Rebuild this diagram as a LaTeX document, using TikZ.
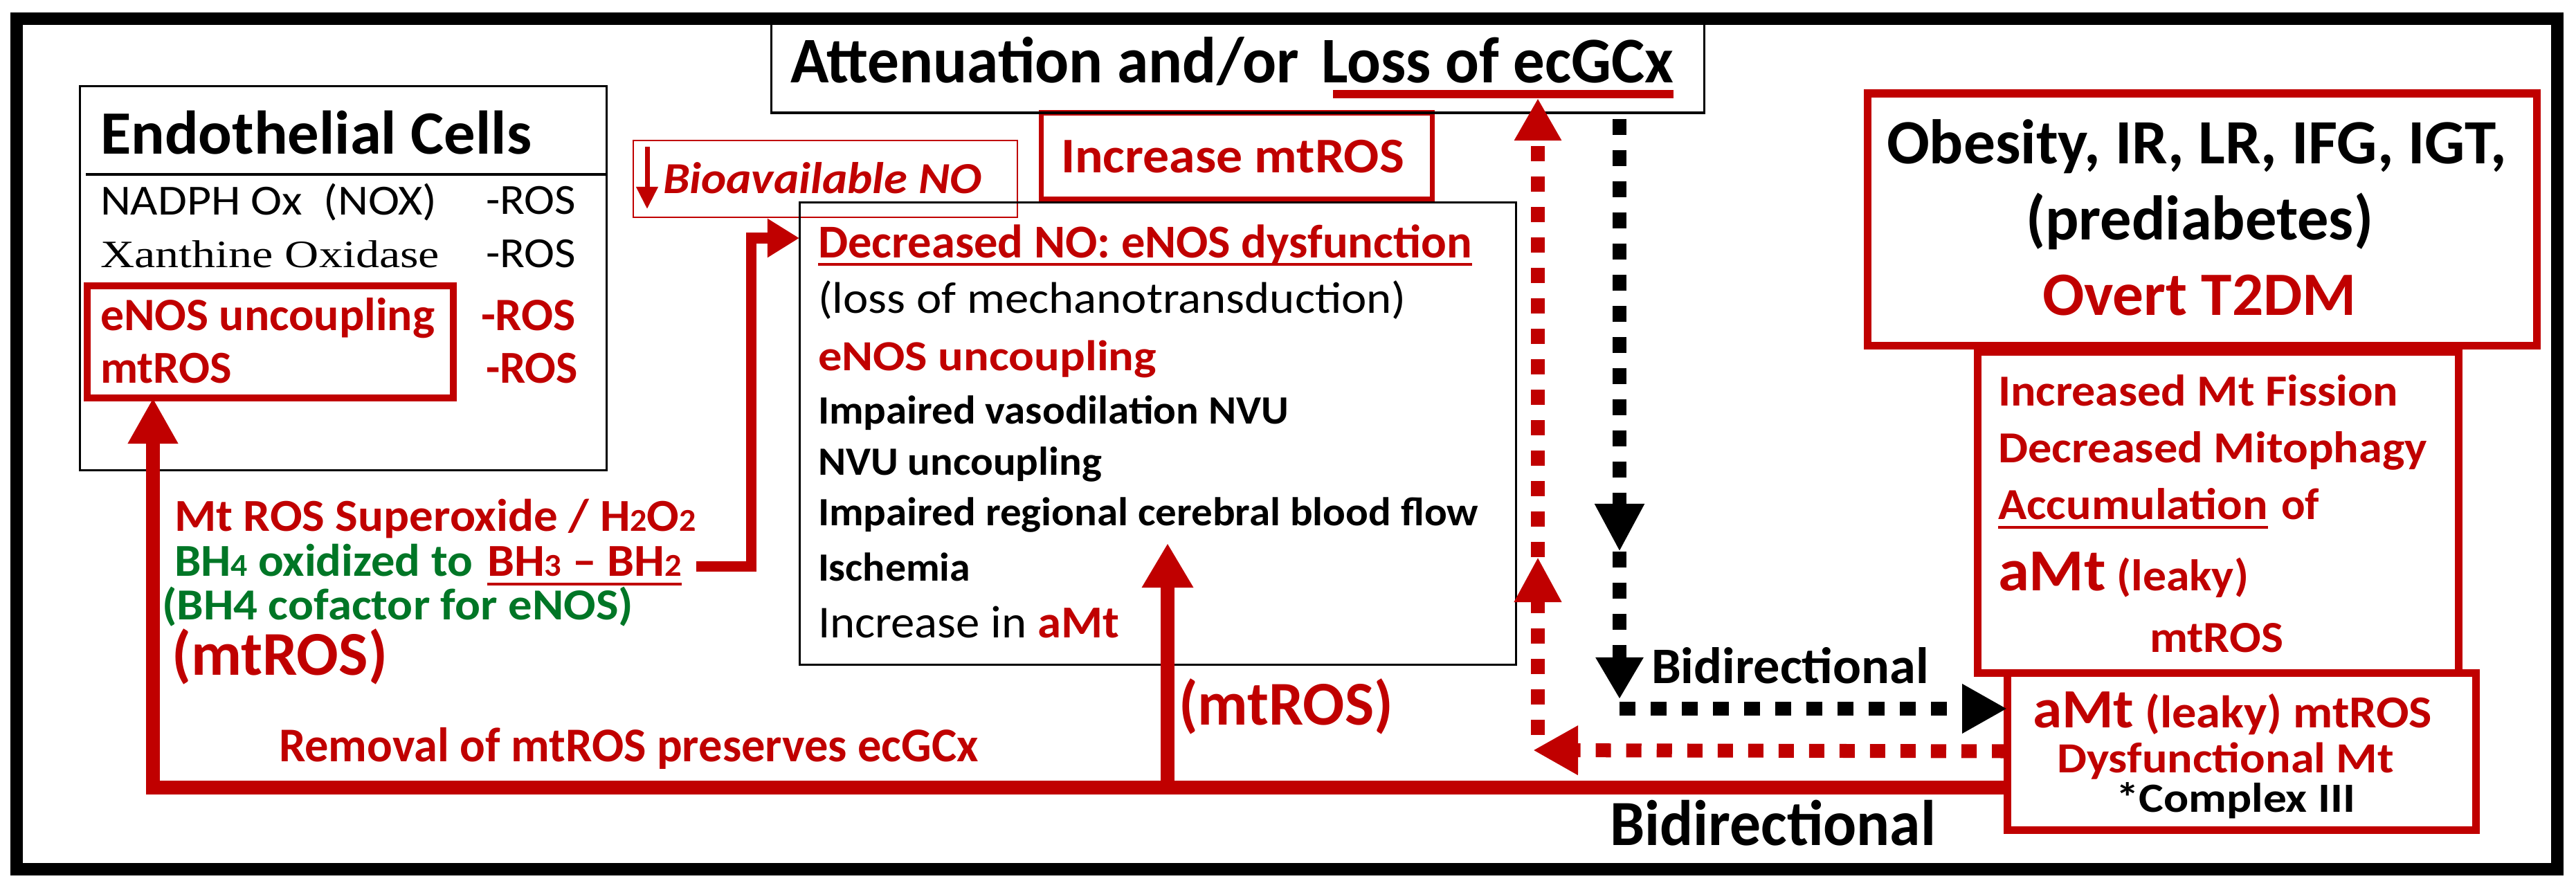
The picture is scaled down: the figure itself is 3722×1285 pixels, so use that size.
\documentclass[tikz,border=0pt]{standalone}
\usepackage{fontspec}
\setmainfont{Carlito}
\newfontfamily\timesfam{Liberation Serif}
\usetikzlibrary{arrows.meta,fit,calc}
\definecolor{dred}{RGB}{192,0,0}
\definecolor{dgreen}{RGB}{0,118,38}
\newlength\pxu \setlength\pxu{0.01cm}
\newcommand\fpx[1]{\fontsize{\fpeval{#1*0.28453}pt}{\fpeval{#1*0.34}pt}\selectfont}
\newcommand\tw[2]{\resizebox{#1\pxu}{\height}{#2}}
\begin{document}
\begin{tikzpicture}[x=0.01cm,y=-0.01cm,
 tx/.style={inner sep=0pt,outer sep=0pt,anchor=base west},
 kbox/.style={draw=black,line width=0.03cm,inner sep=0pt,outer sep=0pt},
 rbox/.style={draw=dred,line width=0.11cm,inner sep=0pt,outer sep=0pt},
 rarr/.style={draw=dred,line width=0.2cm},
 rdash/.style={draw=dred,line width=0.2cm,dash pattern=on 0.22cm off 0.22cm},
 kdash/.style={draw=black,line width=0.2cm,dash pattern=on 0.23cm off 0.22cm},
 rb/.style={font=\bfseries\fpx{#1},text=dred},
 kb/.style={font=\bfseries\fpx{#1},text=black},
]
\useasboundingbox (0,0) rectangle (3722,1285);
\node[fit={(24,27)(3695,1256)},draw,line width=0.18cm,inner sep=0pt] (frame) {};

% ---- boxes
\node[kbox,fit={(115,125)(876,679)}] (ecbox) {};
\node[rbox,line width=0.1cm,fit={(126,413)(655,575)}] (ecred) {};
\node[draw=dred,line width=0.02cm,inner sep=0pt,fit={(915,203)(1470,314)}] (bbox) {};
\node[rbox,line width=0.07cm,fit={(1504,163)(2069,288)}] (incbox) {};
\node[kbox,fit={(1114,35)(2462,163)}] (topbox) {};
\node[kbox,fit={(1155,292)(2190,960)}] (cbox) {};
\node[rbox,fit={(2698,135)(3665,499)}] (obbox) {};
\node[rbox,fit={(2857,508)(3552,972)}] (fisbox) {};
\node[rbox,fit={(2900,972)(3577,1199)}] (amtbox) {};

% ---- endothelial cells
\coordinate (sepL) at (124,252);
\draw[line width=0.035cm] (sepL) -- (sepL -| ecbox.east);
\node[tx,kb=89] (ectitle) at (145,222) {\tw{623}{Endothelial Cells}};
\node[tx,font=\fpx{62}] (nadph) at (145,310) {\tw{486}{NADPH Ox\ \ (NOX)}};
\node[tx,font=\fpx{62}] (ros1) at (702,310) {\tw{130}{-ROS}};
\node[tx,font=\timesfam\fpx{56}] (xan) at (145,386) {\tw{490}{Xanthine Oxidase}};
\node[tx,font=\fpx{62}] (ros2) at (702,386) {\tw{130}{-ROS}};
\node[tx,rb=67] (enos1) at (145,477) {\tw{483}{eNOS uncoupling}};
\node[tx,rb=67] (ros3) at (695,477) {\tw{137}{-ROS}};
\node[tx,rb=66] (mtros1) at (145,553) {\tw{190}{mtROS}};
\node[tx,rb=66] (ros4) at (702,553) {\tw{133}{-ROS}};

% ---- bioavailable NO
\coordinate (bd1) at (935,212); \coordinate (bd2) at (935,302);
\draw[dred,line width=0.07cm,-{Triangle[width=0.3cm,length=0.32cm]}] (bd1) -- (bd2);
\node[tx,font=\bfseries\itshape\fpx{64},text=dred] (bno) at (958,280) {\tw{460}{Bioavailable NO}};

% ---- increase mtROS
\node[tx,rb=72] (inc) at (1533,249) {\tw{496}{Increase mtROS}};

% ---- top box
\node[tx,kb=94] (att) at (1142,120) {\tw{735}{Attenuation and/or}};
\node[tx,kb=94] (lossx) at (1909,120) {\tw{509}{Loss of ecGCx}};
\draw[dred,line width=0.11cm] ($(lossx.base west)+(17,16)$) -- ($(lossx.base east)+(0,16)$);

% ---- central box
\node[tx,rb=68] (dec) at (1182,372) {\tw{945}{Decreased NO: eNOS dysfunction}};
\draw[dred,line width=0.045cm] ($(dec.base west)+(0,10)$) -- ($(dec.base east)+(0,10)$);
\node[tx,font=\fpx{64}] (loss) at (1182,452) {\tw{850}{(loss of mechanotransduction)}};
\node[tx,rb=62] (enos2) at (1182,535) {\tw{489}{eNOS uncoupling}};
\node[tx,kb=58] (imp1) at (1182,612) {\tw{680}{Impaired vasodilation NVU}};
\node[tx,kb=58] (nvu) at (1182,686) {\tw{410}{NVU uncoupling}};
\node[tx,kb=58] (imp2) at (1182,759) {\tw{954}{Impaired regional cerebral blood flow}};
\node[tx,kb=58] (isch) at (1182,839) {\tw{220}{Ischemia}};
\node[tx,font=\fpx{66}] (incr) at (1182,921) {\tw{435}{Increase in {\bfseries\color{dred}aMt}}};

% ---- left lower texts
\node[tx,rb=66] (mtsup) at (252,767) {\tw{754}{Mt ROS Superoxide / H{\fpx{46}2}O{\fpx{46}2}}};
\node[tx,font=\bfseries\fpx{66},text=dgreen] (bh4) at (252,832) {\tw{431}{BH{\fpx{46}4} oxidized to}};
\node[tx,rb=66] (bh3) at (704,832) {\tw{281}{BH{\fpx{46}3} -- BH{\fpx{46}2}}};
\draw[dred,line width=0.035cm] ($(bh3.base west)+(0,12)$) -- ($(bh3.base east)+(0,12)$);
\node[tx,font=\bfseries\fpx{64},text=dgreen] (cof) at (234,895) {\tw{681}{(BH4 cofactor for eNOS)}};
\node[tx,rb=90] (mtros2) at (248,975) {\tw{312}{(mtROS)}};
\node[tx,rb=70] (rem) at (403,1100) {\tw{1011}{Removal of mtROS preserves ecGCx}};

% ---- BH connector
\coordinate (bhA) at (1006,818); \coordinate (bhB) at (1085,818); \coordinate (bhy) at (1085,344);
\draw[rarr,line width=0.15cm,-{Triangle[width=0.53cm,length=0.46cm]}] (bhA) -- (bhB) -- (bhy) -- (bhy -| cbox.west);

% ---- main solid red arrows
\coordinate (lc) at (221,1138);
\draw[rarr,-{Triangle[width=0.68cm,length=0.66cm]}] (lc -| amtbox.west) -- (lc) -- (lc |- ecred.south);
\coordinate (mc) at (1687,1138); \coordinate (mt) at (1687,785);
\draw[rarr,-{Triangle[width=0.7cm,length=0.64cm]}] (mc) -- (mt);
\node[tx,rb=90] (mtros3) at (1703,1047) {\tw{310}{(mtROS)}};

% ---- red dashed
\coordinate (rv0) at (2222,1062); \coordinate (rv1) at (2222,805); \coordinate (rv2) at (2222,142);
\draw[rdash,-{Triangle[width=0.64cm,length=0.65cm]}] (rv0) -- (rv1);
\draw[rdash,-{Triangle[width=0.64cm,length=0.61cm]}] (rv1) -- (rv2);
\coordinate (rh) at (2215,1084);
\draw[rdash,-{Triangle[width=0.67cm,length=0.65cm]}] (amtbox.west) -- (rh);

% ---- black dashed
\coordinate (k0) at (2340,172); \coordinate (k1) at (2340,797);
\coordinate (k2) at (2340,1010); \coordinate (k3) at (2340,1024);
\draw[kdash,-{Triangle[width=0.67cm,length=0.69cm]}] (k0) -- (k1);
\draw[kdash,-{Triangle[width=0.65cm,length=0.6cm]}] (k1) -- (k2);
\draw[kdash,-{Triangle[width=0.67cm,length=0.65cm]}] (k3) -- (k3 -| amtbox.west);
\node[tx,kb=74] (bi1) at (2386,987) {\tw{401}{Bidirectional}};
\node[tx,kb=93] (bi2) at (2326,1221) {\tw{471}{Bidirectional}};

% ---- right column
\node[tx,kb=91] (ob1) at (2726,236) {\tw{896}{Obesity, IR, LR, IFG, IGT,}};
\node[tx,anchor=base,kb=91] (ob2) at (3178,346) {\tw{502}{(prediabetes)}};
\node[tx,anchor=base,rb=89] (ob3) at (3178,455) {\tw{454}{Overt T2DM}};

\node[tx,rb=64] (f1) at (2887,586) {\tw{578}{Increased Mt Fission}};
\node[tx,rb=64] (f2) at (2887,668) {\tw{620}{Decreased Mitophagy}};
\node[tx,rb=64] (f3a) at (2887,750) {\tw{390}{Accumulation}};
\draw[dred,line width=0.045cm] ($(f3a.base west)+(0,12)$) -- ($(f3a.base east)+(0,12)$);
\node[tx,rb=64] (f3b) at (3296,750) {\tw{55}{of}};
\node[tx,rb=64] (f4) at (2887,853) {\tw{362}{{\fpx{86}aMt} (leaky)}};
\node[tx,rb=64] (f5) at (3106,942) {\tw{193}{mtROS}};

\node[tx,rb=66] (a1) at (2937,1051) {\tw{577}{{\fpx{80}aMt} (leaky) mtROS}};
\node[tx,rb=62] (a2) at (2972,1116) {\tw{487}{Dysfunctional Mt}};
\node[tx,kb=60] (a3) at (3057,1173) {\tw{346}{*Complex III}};
\end{tikzpicture}
\end{document}
